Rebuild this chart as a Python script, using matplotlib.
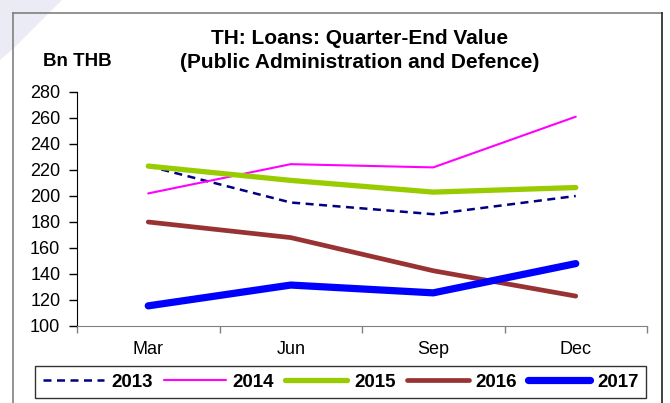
import matplotlib
matplotlib.use("Agg")
import matplotlib.pyplot as plt
from matplotlib.patches import Polygon
from matplotlib.lines import Line2D

plt.rcParams['font.family'] = ['Liberation Sans', 'DejaVu Sans']

quarters = ["Mar", "Jun", "Sep", "Dec"]
years = ["2013", "2014", "2015", "2016", "2017"]
loans_2013 = [223, 195, 186, 200]
loans_2014 = [202, 224.5, 222, 261]
loans_2015 = [223, 212, 203, 206.5]
loans_2016 = [180, 168, 142.5, 123]
loans_2017 = [115.5, 131.5, 125.5, 148]
y_ticks = [100, 120, 140, 160, 180, 200, 220, 240, 260, 280]

series = [loans_2013, loans_2014, loans_2015, loans_2016, loans_2017]
styles = [
    dict(color="#000080", lw=1.8, ls=(0, (3.2, 2.2))),
    dict(color="#ff00ff", lw=1.5, ls="-"),
    dict(color="#99cc00", lw=3.8, ls="-"),
    dict(color="#993333", lw=3.4, ls="-"),
    dict(color="#0000ff", lw=5.2, ls="-"),
]

W, H = 670, 403
fig = plt.figure(figsize=(W / 100, H / 100), dpi=100)

# faint decorative corner shape behind the frame
fig.patches.append(Polygon([(0, 1), (62 / W, 1), (14 / W, 1 - 48 / H), (0, 1 - 60 / H)],
                           closed=True, transform=fig.transFigure,
                           facecolor="#ebebf5", edgecolor="none", zorder=0))
# outer frame
fig.add_artist(Line2D([13 / W, 13 / W], [0, 1 - 13 / H], transform=fig.transFigure,
                      color="#808080", lw=1.2))
fig.add_artist(Line2D([13 / W, 662 / W], [1 - 13 / H, 1 - 13 / H], transform=fig.transFigure,
                      color="#808080", lw=1.2))
fig.add_artist(Line2D([662 / W, 662 / W], [0, 1 - 13 / H], transform=fig.transFigure,
                      color="#202020", lw=1.2))

ax = fig.add_axes([77 / W, 1 - 326 / H, (647 - 77) / W, (326 - 92) / H])
x = list(range(len(quarters)))
handles = []
for yr, vals, st in zip(years, series, styles):
    h, = ax.plot(x, vals, color=st["color"], lw=st["lw"], ls=st["ls"],
                 solid_capstyle="round", dash_capstyle="butt", label=yr)
    handles.append(h)

ax.set_xlim(-0.5, len(quarters) - 0.5)
ax.set_ylim(100, 280)
ax.set_yticks(y_ticks)
ax.tick_params(axis="y", labelsize=13, length=6, width=1, direction="out", pad=6)
ax.set_xticks([i - 0.5 for i in range(len(quarters) + 1)])
ax.set_xticklabels([])
ax.set_xticks(x, minor=True)
ax.set_xticklabels(quarters, minor=True, fontsize=13)
ax.tick_params(axis="x", which="major", length=5, width=1, color="#808080")
ax.tick_params(axis="x", which="minor", length=0, pad=11)
ax.spines["top"].set_visible(False)
ax.spines["right"].set_visible(False)
ax.spines["left"].set_color("#000000")
ax.spines["bottom"].set_color("#808080")

fig.text(360 / W, 1 - 39 / H, "TH: Loans: Quarter-End Value", ha="center", va="center",
         fontsize=15, fontweight="bold")
fig.text(360 / W, 1 - 62 / H, "(Public Administration and Defence)", ha="center", va="center",
         fontsize=15, fontweight="bold")
fig.text(77.5 / W, 1 - 61.5 / H, "Bn THB", ha="center", va="center",
         fontsize=13.5, fontweight="bold")

leg = fig.legend(handles=handles, loc="center", ncol=5,
                 bbox_to_anchor=(340.5 / W, 1 - 382 / H), frameon=True, fancybox=False,
                 edgecolor="#000000", handlelength=3.3, handletextpad=0.37,
                 columnspacing=0.59, borderpad=0.4,
                 prop=dict(size=13.5, weight="bold"))
leg.get_frame().set_linewidth(1.0)

fig.savefig("out.png", dpi=100)
